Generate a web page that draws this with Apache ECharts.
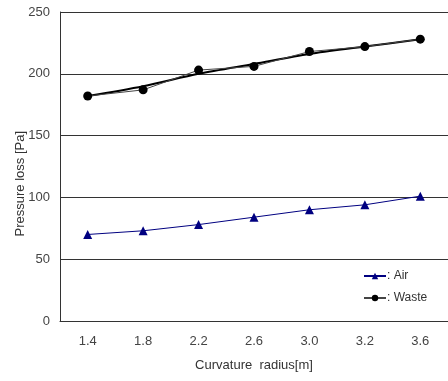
<!DOCTYPE html>
<html>
<head>
<meta charset="utf-8">
<script src="https://cdn.jsdelivr.net/npm/echarts@6/dist/echarts.min.js"></script>
<style>
  html, body { margin: 0; padding: 0; background: #fff; }
  #chart { width: 448px; height: 381px; }
</style>
</head>
<body>
<div id="chart"></div>
<script>
// data
var radius = ["1.4", "1.8", "2.2", "2.6", "3.0", "3.2", "3.6"];
var airLoss = [70, 73, 78, 84, 90, 94, 101];
var wasteLoss = [182, 187, 203, 206, 218, 222, 228];
// thick fitted curve through the waste points
var wasteTrend = [182, 190, 200, 208, 216, 222, 228];

var myChart = echarts.init(document.getElementById("chart"));
myChart.setOption({
  animation: false,
  textStyle: { fontFamily: "Liberation Sans" },
  grid: { left: 60, right: 0, top: 12, bottom: 60 },
  legend: {
    data: ["Air", "Waste"],
    orient: "vertical",
    left: 358,
    top: 265,
    itemGap: 10,
    itemWidth: 22,
    itemHeight: 8,
    formatter: function (name) {
      return ": " + name;
    },
    textStyle: { color: "#333", fontSize: 12, padding: [0, 0, 0, -4] },
  },
  xAxis: {
    type: "category",
    data: radius,
    boundaryGap: true,
    name: "Curvature  radius[m]",
    nameLocation: "middle",
    nameGap: 38,
    nameTextStyle: { color: "#333", fontSize: 13 },
    axisLine: { lineStyle: { color: "#333", width: 1 } },
    axisTick: { inside: true, length: 4, lineStyle: { color: "#333" } },
    axisLabel: { color: "#444", fontSize: 13, margin: 14 },
  },
  yAxis: {
    type: "value",
    min: 0,
    max: 250,
    interval: 50,
    axisLine: { show: true, lineStyle: { color: "#333", width: 1 } },
    axisTick: { show: false },
    axisLabel: { color: "#444", fontSize: 13, margin: 10 },
    splitLine: { show: true, lineStyle: { color: "#333", width: 1 } },
  },
  graphic: [
    {
      type: "text",
      left: 14,
      top: 131,
      rotation: Math.PI / 2,
      style: {
        text: "Pressure loss [Pa]",
        fill: "#333",
        font: "13px Liberation Sans",
      },
    },
  ],
  series: [
    {
      name: "Air",
      type: "line",
      data: airLoss,
      symbol: "triangle",
      symbolSize: 9,
      itemStyle: { color: "#000080" },
      lineStyle: { color: "#000080", width: 1 },
    },
    {
      name: "Waste",
      type: "line",
      data: wasteLoss,
      symbol: "circle",
      symbolSize: 9,
      itemStyle: { color: "#000" },
      lineStyle: { color: "#444", width: 1 },
      z: 3,
    },
    {
      name: "trend",
      type: "line",
      data: wasteTrend,
      smooth: 0.3,
      symbol: "none",
      lineStyle: { color: "#000", width: 2 },
      z: 2,
    },
  ],
});
</script>
</body>
</html>
